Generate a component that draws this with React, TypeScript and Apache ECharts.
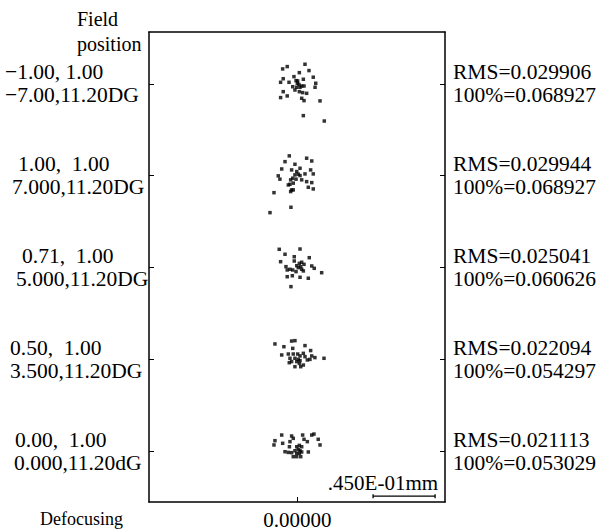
import React, { useEffect, useRef } from "react";
import * as echarts from "echarts";

// ---- data (µm, offsets of each ray from the field reference point; y up) ----
const fieldLabels: [string, string][] = [
  ["−1.00, 1.00", "−7.00,11.20DG"],
  ["1.00,  1.00", "7.000,11.20DG"],
  ["0.71,  1.00", "5.000,11.20DG"],
  ["0.50,  1.00", "3.500,11.20DG"],
  ["0.00,  1.00", "0.000,11.20dG"],
];
const rmsValues = ["0.029906", "0.029944", "0.025041", "0.022094", "0.021113"];
const geoValues = ["0.068927", "0.068927", "0.060626", "0.054297", "0.053029"];
const defocusLabel = "0.00000";
const scaleBarLabel = ".450E-01mm";
const scaleBarUm = 45;

const spots0: [number, number][] = [
  [-10.6, 10.9], [-7.3, 12.6], [5.6, 14.3], [8.5, 9.7], [1.5, 8.2], [-2.4, 5.3], [11.6, 4.9],
  [-10.2, 3.8], [-12.1, 1.2], [-6.0, 1.2], [-0.9, 2.4], [0, 0.5], [4.4, 3.4], [3.2, -1.5],
  [2.0, -2.4], [4.9, -1.5], [13.4, 0.5], [12.9, -2.4], [-3.3, -2.0], [-0.4, -2.4], [-10.2, -5.6],
  [-7.3, -8.7], [-12.1, -9.9], [1.5, -5.6], [3.9, -6.3], [6.8, -6.8], [3.2, -10.4], [4.9, -12.1],
  [16.5, -12.3], [4.4, -23.0], [19.6, -26.9], [0.3, 2.2], [-1.7, -4.4], [1.2, -0.4],
];
const spots1: [number, number][] = [
  [-5.8, 14.4], [-8.9, 10.2], [6.8, 12.7], [10.5, 10.7], [-1.7, 8.3], [2.0, 5.4], [-11.3, 4.9],
  [-4.1, 4.2], [9.7, 4.2], [11.6, 1.3], [-13.8, -0.1], [-12.6, -2.5], [-0.4, 3.0], [0.7, 1.1],
  [2.0, 0.1], [-1.7, 0.6], [-3.3, -1.8], [-4.8, -3.0], [-0.9, -2.5], [3.2, -3.0], [5.6, 1.3],
  [-5.3, -6.2], [-6.5, -6.7], [-2.9, -5.4], [6.8, -4.3], [10.5, -5.0], [8.0, -8.4], [11.6, -9.6],
  [-4.1, -10.3], [-4.8, -11.5], [-2.9, -10.3], [-16.9, -12.3], [-4.6, -22.9], [-19.8, -26.8],
];
const spots2: [number, number][] = [
  [-13.1, 13.2], [2.0, 13.4], [-8.9, 9.6], [-2.2, 7.8], [8.7, 7.1], [-12.1, 4.2], [-2.2, 4.7],
  [1.5, 3.0], [3.2, 3.8], [4.9, 2.3], [-0.4, 1.3], [0.7, -0.1], [2.5, 0.6], [10.5, 1.1],
  [12.3, -0.6], [-8.2, 0.6], [-5.3, -1.3], [-7.3, -1.8], [-3.3, -1.8], [-0.9, -3.0], [3.2, -1.3],
  [4.4, -2.5], [17.7, -3.8], [-7.3, -6.7], [-3.6, -6.0], [2.0, -7.1], [8.0, -7.8], [-4.6, -13.9],
];
const spots3: [number, number][] = [
  [-16.2, 11.1], [-4.1, 13.2], [-1.7, 13.5], [-9.7, 9.1], [-3.3, 7.9], [5.6, 9.9], [9.7, 6.3],
  [-11.3, 3.1], [-6.5, 3.8], [-2.9, 3.8], [0.3, 3.8], [2.0, 2.4], [4.4, 4.3], [5.6, 1.9],
  [10.5, 2.4], [12.8, 1.2], [19.4, 0.7], [-5.3, 0.7], [-1.7, 0.7], [0.7, -0.1], [2.0, -1.0],
  [-0.4, -1.7], [-4.1, -1.7], [-5.8, -2.5], [7.3, -0.5], [9.2, -0.1], [-1.7, -5.4], [2.5, -5.4],
  [4.4, -4.2], [1.5, -3.0],
];
const spots4: [number, number][] = [
  [-16.2, 7.5], [-16.9, 4.4], [-11.3, 11.6], [-10.6, 5.6], [-4.1, 10.9], [-2.9, 9.2], [-5.3, 6.8],
  [3.9, 11.6], [4.9, 8.5], [7.3, 6.8], [10.5, 11.6], [12.1, 12.3], [15.2, 8.5], [16.5, 4.4],
  [-8.9, -0.5], [-6.5, -1.0], [-4.1, -1.2], [-5.7, 3.1], [-0.4, 3.1], [1.5, 4.1], [3.2, 3.1],
  [0.7, 1.2], [2.0, 0.2], [-1.7, 0.2], [-0.4, -1.7], [1.5, -1.7], [3.2, -0.7], [8.0, -0.7],
  [-2.9, -4.1], [-0.4, -4.1], [2.5, -4.1],
];
const allSpots = [spots0, spots1, spots2, spots3, spots4];

// ---- layout / style ----
const ROW_PITCH = 66.6; // µm between stacked field plots
const X_MIN = -107.6;
const X_MAX = 107.2;
const Y_MAX = 37.7;
const Y_MIN = -4 * ROW_PITCH - 37.0;
const FONT = '"Liberation Serif", "Times New Roman", serif';
const FS = 21.5;
const LH = 23;
const leftPads: [number, number][] = [[0, 0], [13, 7], [17, 11], [5, 5], [10, 9]];
const scaleBarStart = 55;
const scaleBarY = Y_MIN + 4.2;

export default function App() {
  const ref = useRef<HTMLDivElement>(null);
  useEffect(() => {
    if (!ref.current) return;
    const chart = echarts.init(ref.current, null, { renderer: "svg" });
    const rowY = fieldLabels.map((_, i) => -i * ROW_PITCH);
    const rowOf = (v: number) => Math.round(-v / ROW_PITCH);

    const rich: any = {};
    leftPads.forEach((p, i) => {
      rich["a" + i] = { padding: [0, 0, 0, p[0]], fontSize: FS, fontFamily: FONT, lineHeight: LH, color: "#000" };
      rich["b" + i] = { padding: [0, 0, 0, p[1]], fontSize: FS, fontFamily: FONT, lineHeight: LH, color: "#000" };
    });

    const spotSeries = allSpots.map((pts, i) => ({
      type: "scatter",
      xAxisIndex: 0,
      yAxisIndex: 0,
      symbol: "rect",
      symbolSize: 3.5,
      itemStyle: { color: "#000" },
      silent: true,
      data: pts.map(([dx, dy]) => [dx, dy + rowY[i]]),
    }));

    const axisLineStyle = { color: "#000", width: 1.5 };

    chart.setOption({
      animation: false,
      backgroundColor: "#fff",
      grid: { left: 149, right: 154, top: 32, bottom: 29, containLabel: false, outerBoundsMode: "none" },
      xAxis: [
        {
          type: "value",
          position: "bottom",
          min: X_MIN,
          max: X_MAX,
          axisLine: { show: true, onZero: false, lineStyle: axisLineStyle },
          axisTick: { show: true, inside: true, length: 5, customValues: [0], lineStyle: { color: "#000" } },
          axisLabel: {
            show: true,
            customValues: [0],
            formatter: () => defocusLabel,
            margin: 7,
            color: "#000",
            fontFamily: FONT,
            fontSize: 21,
          },
          splitLine: { show: false },
        },
        {
          type: "value",
          position: "top",
          min: X_MIN,
          max: X_MAX,
          axisLine: { show: true, onZero: false, lineStyle: axisLineStyle },
          axisTick: { show: false },
          axisLabel: { show: false },
          splitLine: { show: false },
        },
      ],
      yAxis: [
        {
          type: "value",
          position: "left",
          min: Y_MIN,
          max: Y_MAX,
          axisLine: { show: true, onZero: false, lineStyle: axisLineStyle },
          axisTick: { show: true, inside: true, length: 5, customValues: rowY, lineStyle: { color: "#000" } },
          axisLabel: {
            show: true,
            customValues: rowY,
            align: "left",
            margin: 144,
            formatter: (v: number) => {
              const i = rowOf(v);
              const l = fieldLabels[i];
              return `{a${i}|${l[0]}}\n{b${i}|${l[1]}}`;
            },
            rich,
          },
          splitLine: { show: false },
        },
        {
          type: "value",
          position: "right",
          min: Y_MIN,
          max: Y_MAX,
          axisLine: { show: true, onZero: false, lineStyle: axisLineStyle },
          axisTick: { show: true, inside: true, length: 5, customValues: rowY, lineStyle: { color: "#000" } },
          axisLabel: {
            show: true,
            customValues: rowY,
            align: "left",
            margin: 8,
            color: "#000",
            fontFamily: FONT,
            fontSize: FS,
            lineHeight: LH,
            formatter: (v: number) => {
              const i = rowOf(v);
              return `RMS=${rmsValues[i]}\n100%=${geoValues[i]}`;
            },
          },
          splitLine: { show: false },
        },
      ],
      graphic: [
        {
          type: "text",
          left: 77,
          top: 6,
          style: { text: "Field\nposition", fontFamily: FONT, fontSize: 20, lineHeight: 25, fill: "#000", align: "left" },
        },
        {
          type: "text",
          left: 40,
          top: 510,
          style: { text: "Defocusing", fontFamily: FONT, fontSize: 18, fill: "#000" },
        },
      ],
      series: [
        ...spotSeries,
        {
          type: "custom",
          xAxisIndex: 0,
          yAxisIndex: 0,
          silent: true,
          data: [[scaleBarStart, scaleBarStart + scaleBarUm, scaleBarY]],
          renderItem: (params: any, api: any) => {
            const p0 = api.coord([api.value(0), api.value(2)]);
            const p1 = api.coord([api.value(1), api.value(2)]);
            const st = { stroke: "#000", lineWidth: 1.3 };
            return {
              type: "group",
              children: [
                { type: "line", shape: { x1: p0[0], y1: p0[1], x2: p1[0], y2: p1[1] }, style: st },
                { type: "line", shape: { x1: p0[0], y1: p0[1] - 2, x2: p0[0], y2: p0[1] + 2 }, style: st },
                { type: "line", shape: { x1: p1[0], y1: p1[1] - 2, x2: p1[0], y2: p1[1] + 2 }, style: st },
                {
                  type: "text",
                  style: {
                    text: scaleBarLabel,
                    x: p1[0] + 3,
                    y: p1[1] - 3,
                    align: "right",
                    verticalAlign: "bottom",
                    fontFamily: FONT,
                    fontSize: 21,
                    fill: "#000",
                  },
                },
              ],
            };
          },
        },
      ],
    });
    return () => chart.dispose();
  }, []);
  return (
    <div
      ref={ref}
      style={{ position: "fixed", left: 0, top: 0, width: 599, height: 531, background: "#fff" }}
    />
  );
}
